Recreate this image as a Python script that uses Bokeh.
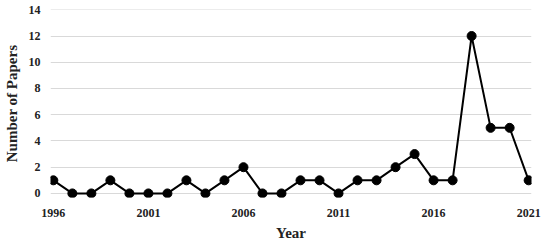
from bokeh.plotting import figure
from bokeh.models import Range1d, FixedTicker
from bokeh.embed import file_html
from bokeh.resources import INLINE

years = list(range(1996, 2022))
papers = [1, 0, 0, 1, 0, 0, 0, 1, 0, 1, 2, 0, 0, 1, 1, 0, 1, 1, 2, 3, 1, 1, 12, 5, 5, 1]
x_ticks = [1996, 2001, 2006, 2011, 2016, 2021]
y_ticks = [0, 2, 4, 6, 8, 10, 12, 14]

p = figure(frame_width=481, frame_height=188, output_backend="svg", toolbar_location=None,
           x_range=Range1d(1995.85, 2021.15), y_range=Range1d(-0.31, 14.02),
           min_border_left=44, min_border_right=10, min_border_top=9, min_border_bottom=5)
p.outline_line_color = None

p.line(years, papers, line_color="black", line_width=2)
p.scatter(years, papers, size=9, fill_color="black", line_color="black")

font = "Liberation Serif"
for ax in (p.xaxis, p.yaxis):
    ax.axis_line_color = None
    ax.major_tick_line_color = None
    ax.minor_tick_line_color = None
    ax.major_tick_in = 0
    ax.major_tick_out = 0
    ax.major_label_text_font = font
    ax.major_label_text_font_style = "bold"
    ax.major_label_text_font_size = "12px"
    ax.major_label_text_color = "#222222"
    ax.axis_label_text_font = font
    ax.axis_label_text_font_style = "bold"
    ax.axis_label_text_font_size = "15px"
    ax.axis_label_text_color = "#222222"

p.xaxis.ticker = FixedTicker(ticks=x_ticks)
p.yaxis.ticker = FixedTicker(ticks=y_ticks)
p.xaxis.axis_label = "Year"
p.yaxis.axis_label = "Number of Papers"
p.xaxis.major_label_standoff = 11
p.yaxis.major_label_standoff = 10
p.xaxis.axis_label_standoff = 5
p.yaxis.axis_label_standoff = 6

p.xgrid.grid_line_color = None
p.ygrid.grid_line_color = "#d9d9d9"
p.ygrid.grid_line_width = 1

open("out.html", "w").write(file_html(p, INLINE))
